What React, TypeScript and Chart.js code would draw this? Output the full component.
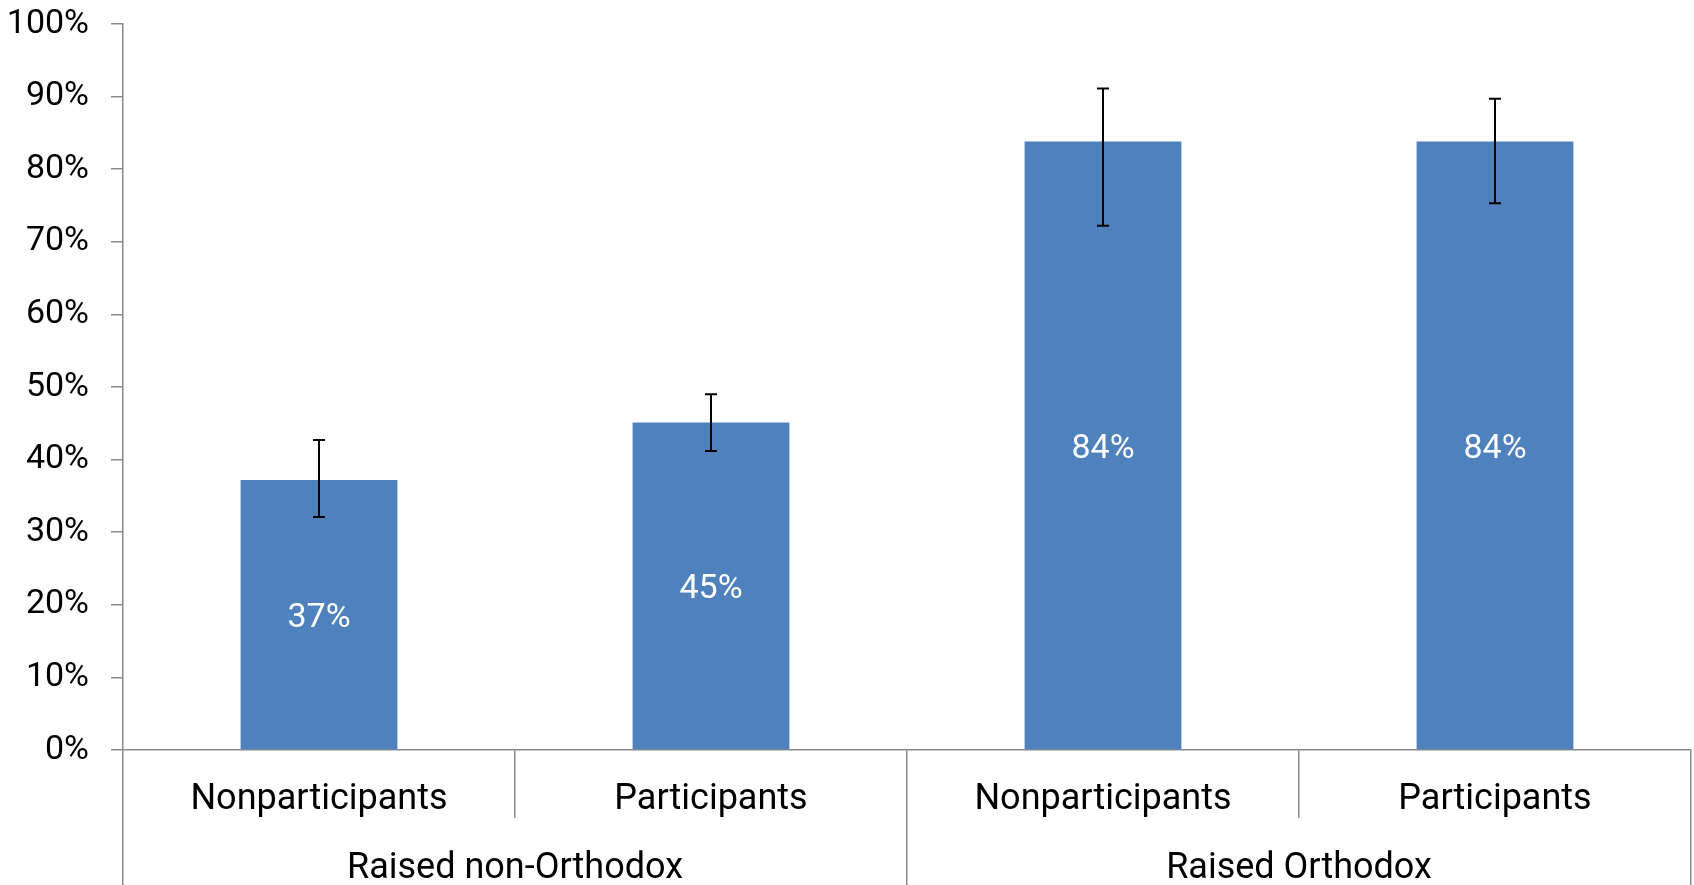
import React, { useEffect, useRef } from "react";
import { Chart, registerables } from "chart.js";

Chart.register(...registerables);

const subCategories = ["Nonparticipants", "Participants", "Nonparticipants", "Participants"];
const groupLabels = ["Raised non-Orthodox", "Raised Orthodox"];
const values = [37.2, 45.1, 83.8, 83.8];
const errLow = [32.1, 41.2, 72.2, 75.3];
const errHigh = [42.7, 49.0, 91.1, 89.7];
const yTickStep = 10;

const AXIS_COLOR = "#8a8a8a";
const BAR_COLOR = "#4f81bd";
const FONT = "Roboto, 'Open Sans', sans-serif";

const errorBarPlugin = {
  id: "errorBarsAndLabels",
  afterDatasetsDraw(chart: any) {
    const ctx = chart.ctx;
    const meta = chart.getDatasetMeta(0);
    const y = chart.scales.y;
    ctx.save();
    meta.data.forEach((bar: any, i: number) => {
      const props = bar.getProps(["x", "y", "base"], true);
      // data label
      ctx.fillStyle = "#ffffff";
      ctx.font = `34px ${FONT}`;
      ctx.textAlign = "center";
      ctx.textBaseline = "middle";
      ctx.fillText(`${Math.round(values[i])}%`, props.x, (props.y + props.base) / 2 + 4);
      // error bar
      const yLo = y.getPixelForValue(errLow[i]);
      const yHi = y.getPixelForValue(errHigh[i]);
      ctx.strokeStyle = "#000000";
      ctx.lineWidth = 2;
      ctx.beginPath();
      ctx.moveTo(props.x, yLo);
      ctx.lineTo(props.x, yHi);
      ctx.moveTo(props.x - 6, yLo);
      ctx.lineTo(props.x + 6, yLo);
      ctx.moveTo(props.x - 6, yHi);
      ctx.lineTo(props.x + 6, yHi);
      ctx.stroke();
    });
    ctx.restore();
  },
};

export default function App() {
  const canvasRef = useRef<HTMLCanvasElement | null>(null);

  useEffect(() => {
    if (!canvasRef.current) return;
    const chart = new Chart(canvasRef.current, {
      type: "bar",
      data: {
        labels: subCategories,
        datasets: [
          {
            data: values,
            backgroundColor: BAR_COLOR,
            borderWidth: 0,
            barPercentage: 0.4,
            categoryPercentage: 1,
          },
        ],
      },
      options: {
        animation: false,
        responsive: false,
        maintainAspectRatio: false,
        layout: { padding: { top: 24, right: 3, left: 0, bottom: 0 } },
        plugins: {
          legend: { display: false },
          tooltip: { enabled: false },
        },
        scales: {
          y: {
            min: 0,
            max: 100,
            ticks: {
              stepSize: yTickStep,
              callback: (v: any) => `${v}%`,
              color: "#000000",
              font: { family: FONT, size: 34 },
              padding: 22,
            },
            grid: {
              drawOnChartArea: false,
              drawTicks: true,
              tickLength: 12,
              color: AXIS_COLOR,
              lineWidth: 1.5,
            },
            border: { display: true, color: AXIS_COLOR, width: 1.5 },
            afterFit: (scale: any) => {
              scale.width = 123;
              scale.paddingTop = 0;
              scale.paddingBottom = 0;
            },
          },
          x: {
            position: "bottom",
            offset: true,
            ticks: {
              color: "#000000",
              font: { family: FONT, size: 36 },
              padding: -40,
              autoSkip: false,
              maxRotation: 0,
            },
            grid: {
              offset: true,
              drawOnChartArea: false,
              drawTicks: true,
              tickLength: 68,
              color: AXIS_COLOR,
              lineWidth: 1.5,
            },
            border: { display: true, color: AXIS_COLOR, width: 1.5 },
            afterFit: (scale: any) => {
              scale.height = 68;
            },
          },
          x2: {
            type: "category",
            position: "bottom",
            labels: groupLabels,
            offset: true,
            ticks: {
              color: "#000000",
              font: { family: FONT, size: 36 },
              padding: -38,
              autoSkip: false,
              maxRotation: 0,
            },
            grid: {
              offset: true,
              drawOnChartArea: false,
              drawTicks: true,
              tickLength: 67,
              color: AXIS_COLOR,
              lineWidth: 1.5,
            },
            border: { display: false },
            afterFit: (scale: any) => {
              scale.height = 67;
            },
          },
        },
      } as any,
      plugins: [errorBarPlugin],
    });
    return () => chart.destroy();
  }, []);

  return (
    <div style={{ position: "absolute", left: 0, top: 0, width: 1694, height: 885, background: "#ffffff" }}>
      <canvas ref={canvasRef} width={1694} height={885} style={{ display: "block" }} />
    </div>
  );
}
